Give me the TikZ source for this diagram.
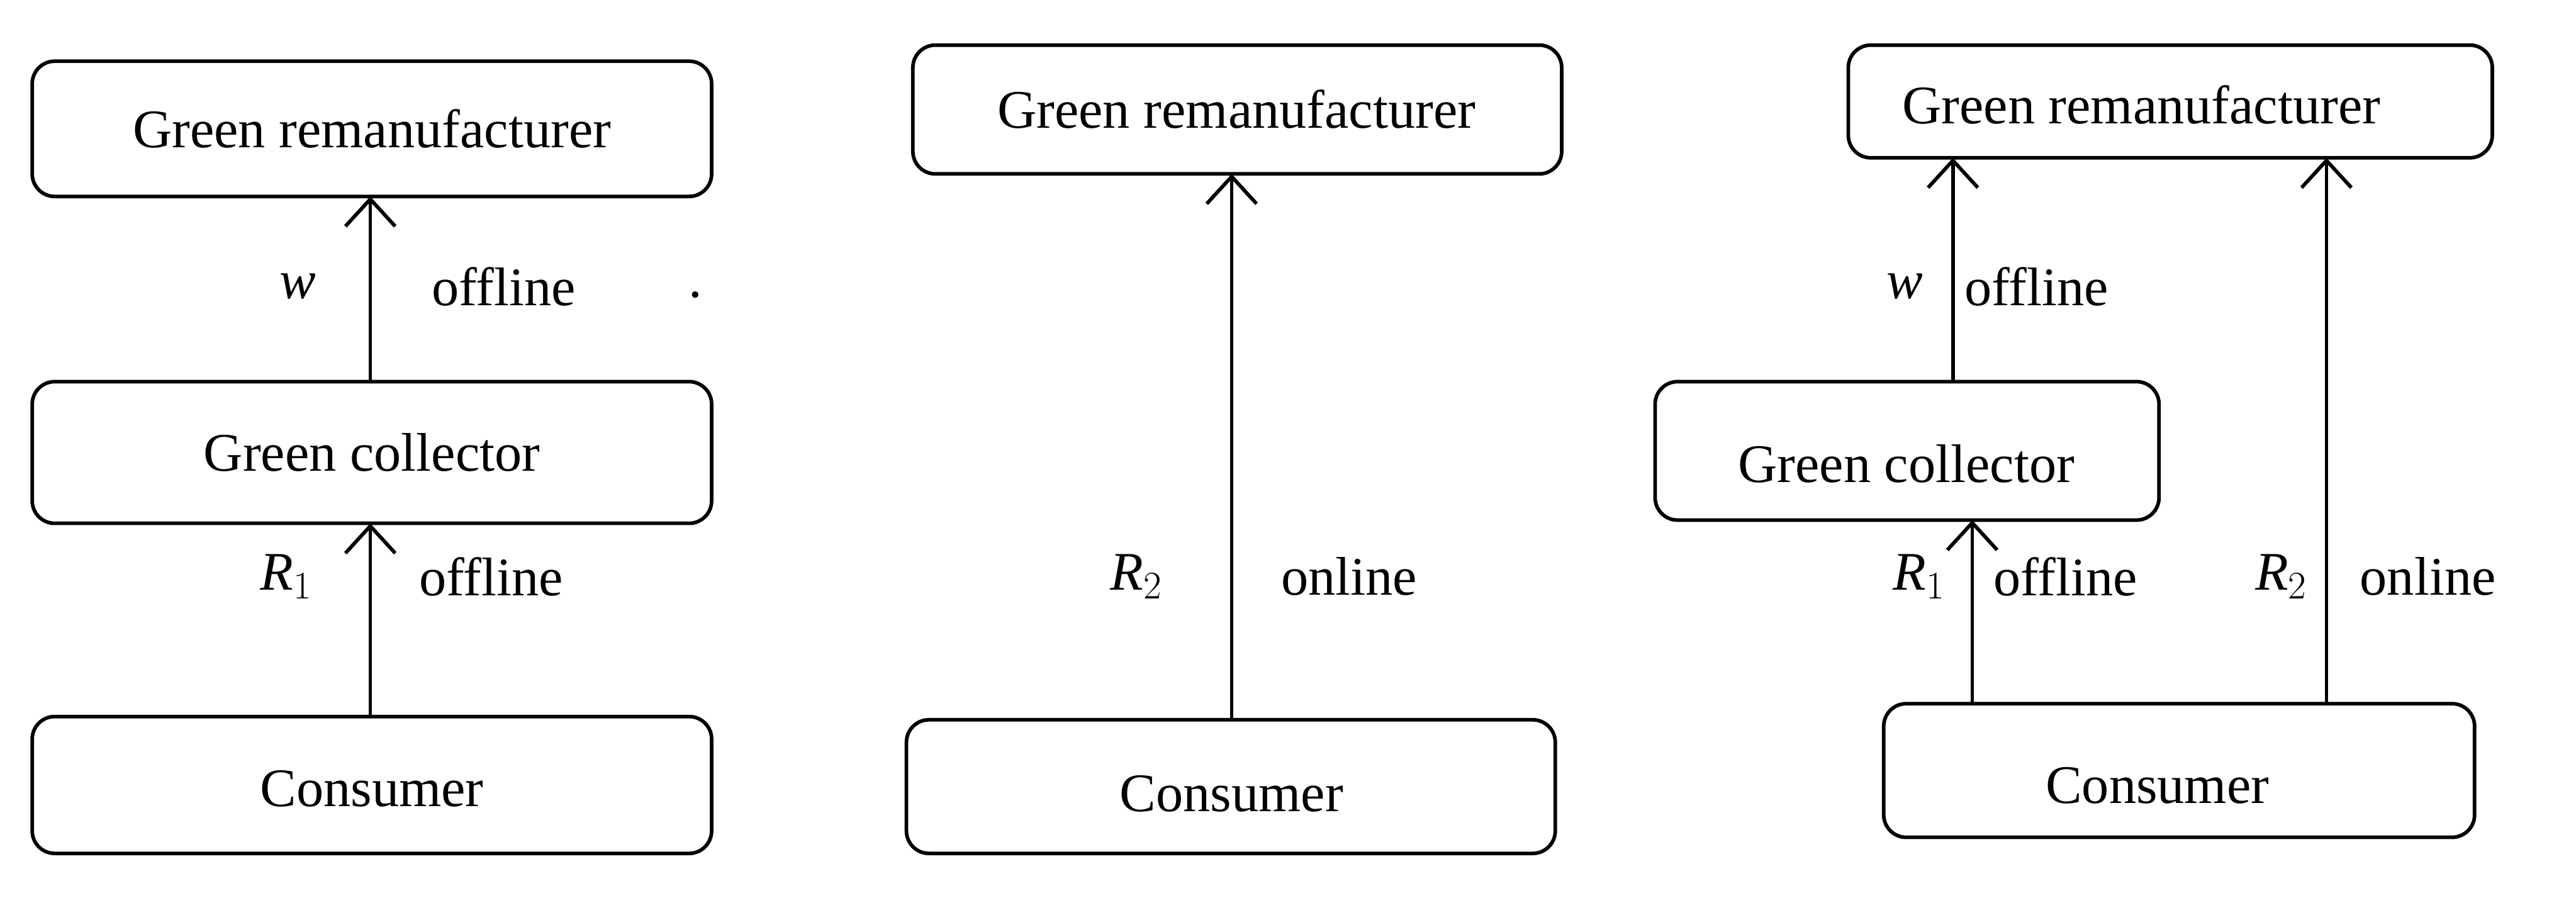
\documentclass[tikz,border=0pt]{standalone}
\usepackage{fontspec}
\setmainfont{Liberation Serif}
\usetikzlibrary{arrows.meta}
\begin{document}
\begin{tikzpicture}[x=0.025cm,y=-0.025cm,
 box/.style={draw,line width=1.6pt,rounded corners=0.35cm},
 arr/.style={-{Straight Barb[length=12pt,width=22pt,line width=1.6pt]},line width=1.6pt},
 lab/.style={font=\fontsize{24}{28}\selectfont,inner sep=0pt}]
\useasboundingbox (0,0) rectangle (1600,557.4);
% left
\draw[box] (20,38) rectangle (442,122); \node[lab] (g1) at (231,80) {Green remanufacturer};
\draw[box] (20,237) rectangle (442,325); \node[lab] (c1) at (231,281) {Green collector};
\draw[box] (20,445) rectangle (442,530); \node[lab] (k1) at (231,490) {Consumer};
\coordinate (a1s) at (230,237); \coordinate (a1e) at (230,122);
\coordinate (a2s) at (230,445); \coordinate (a2e) at (230,325);
\draw[arr] (a1s) -- (a1e); \draw[arr] (a2s) -- (a2e);
\node[lab] (w1) at (185,178) {\textit{w}};
\node[lab] (o1) at (313,178) {offline};
\node[lab] (dot) at (432,183) {.};
\node[lab] (r1) at (178,358) {\textit{R}$_1$};
\node[lab] (o2) at (305,358) {offline};
% middle
\draw[box] (567,28) rectangle (970,108); \node[lab] (g2) at (768,68) {Green remanufacturer};
\draw[box] (563,447) rectangle (966,530); \node[lab] (k2) at (765,493) {Consumer};
\coordinate (b1s) at (765,447); \coordinate (b1e) at (765,108);
\draw[arr] (b1s) -- (b1e);
\node[lab] (r2) at (706,358) {\textit{R}$_2$};
\node[lab] (on1) at (838,358) {online};
% right
\draw[box] (1148,28) rectangle (1548,98); \node[lab] (g3) at (1330,65) {Green remanufacturer};
\draw[box] (1028,237) rectangle (1341,323); \node[lab] (c3) at (1184,288) {Green collector};
\draw[box] (1170,437) rectangle (1537,520); \node[lab] (k3) at (1340,488) {Consumer};
\coordinate (c1s) at (1213,237); \coordinate (c1e) at (1213,98);
\coordinate (c2s) at (1225,437); \coordinate (c2e) at (1225,323);
\coordinate (c3s) at (1445,437); \coordinate (c3e) at (1445,98);
\draw[arr] (c1s) -- (c1e); \draw[arr] (c2s) -- (c2e); \draw[arr] (c3s) -- (c3e);
\node[lab] (w3) at (1183,178) {\textit{w}};
\node[lab] (o3) at (1265,178) {offline};
\node[lab] (r3) at (1192,358) {\textit{R}$_1$};
\node[lab] (o4) at (1283,358) {offline};
\node[lab] (r4) at (1417,358) {\textit{R}$_2$};
\node[lab] (on2) at (1508,358) {online};
\end{tikzpicture}
\end{document}
